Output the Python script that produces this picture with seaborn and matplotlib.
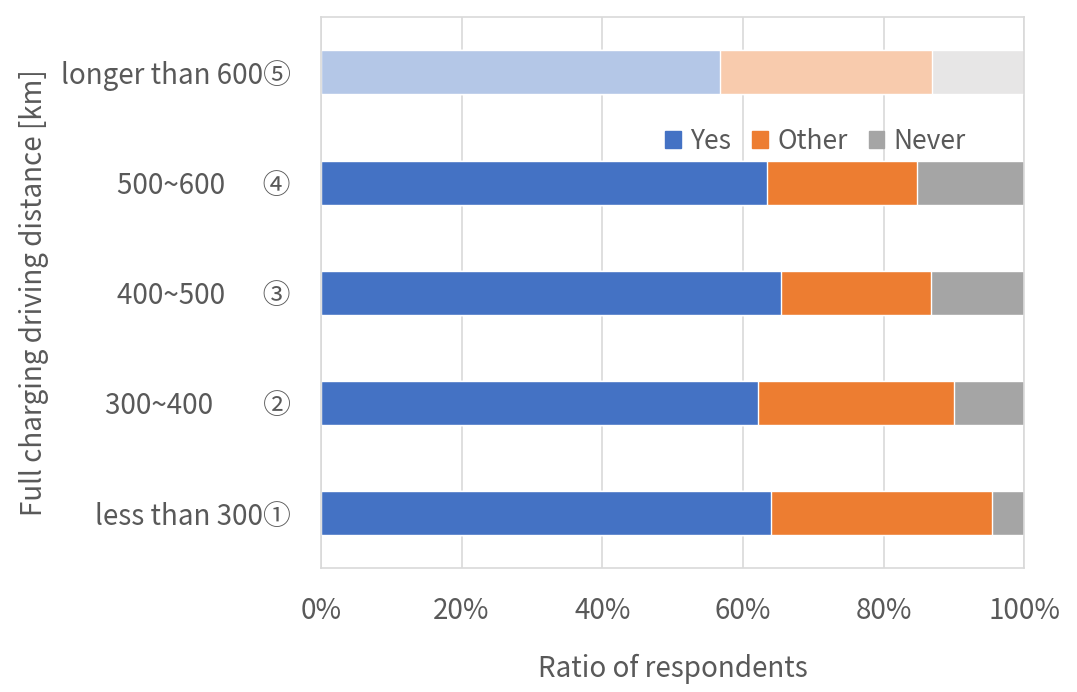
import pandas as pd
import matplotlib
matplotlib.use('Agg')
import matplotlib.pyplot as plt
import seaborn as sns
from matplotlib.patches import Patch
from matplotlib.ticker import PercentFormatter

# 資料 (由上到下)
categories = ['longer than 600⑤', '500~600      ④', '400~500      ③',
              '300~400        ②', 'less than 300①']
yes_pct = [56.8, 63.4, 65.4, 62.2, 64.0]
other_pct = [30.1, 21.4, 21.4, 27.8, 31.4]
never_pct = [13.1, 15.2, 13.2, 10.0, 4.6]
series_names = ['Yes', 'Other', 'Never']

# 顏色 (第一列為淡色)
main_colors = ['#4472C4', '#ED7D31', '#A5A5A5']
light_colors = ['#B4C7E7', '#F8CBAD', '#E7E6E6']
text_color = '#595959'

sns.set_theme(style='white')
plt.rcParams['font.family'] = ['Noto Sans CJK KR', 'DejaVu Sans']

df = pd.DataFrame({'cat': categories, 'Yes': yes_pct,
                   'Other': other_pct, 'Never': never_pct})
df['cum_other'] = df['Yes'] + df['Other']
df['cum_never'] = df['cum_other'] + df['Never']

fig = plt.figure(figsize=(10.77, 6.92), dpi=100)
ax = fig.add_axes([0.298, 0.179, 0.653, 0.796])

# 疊加: 先畫總長, 再蓋上較短的
for col, idx in [('cum_never', 2), ('cum_other', 1), ('Yes', 0)]:
    pal = {c: (light_colors[idx] if i == 0 else main_colors[idx])
           for i, c in enumerate(categories)}
    sns.barplot(data=df, x=col, y='cat', hue='cat', palette=pal,
                order=categories, hue_order=categories, orient='h',
                width=0.4, saturation=1, legend=False, ax=ax)

ax.set_xlim(0, 100)
ax.set_ylim(4.5, -0.5)
ax.set_xticks([0, 20, 40, 60, 80, 100])
ax.xaxis.set_major_formatter(PercentFormatter(decimals=0))
ax.grid(axis='x', color='#D9D9D9', linewidth=1.2)
ax.set_axisbelow(True)
for s in ax.spines.values():
    s.set_color('#D9D9D9')
    s.set_linewidth(1.2)

ax.tick_params(axis='y', length=0, pad=22, labelsize=20, labelcolor=text_color)
ax.tick_params(axis='x', length=0, pad=20, labelsize=20, labelcolor=text_color)
ax.set_xlabel('Ratio of respondents', fontsize=20, color=text_color, labelpad=20)
ax.set_ylabel('Full charging driving distance [km]', fontsize=20,
              color=text_color, labelpad=8)

handles = [Patch(color=c) for c in main_colors]
ax.legend(handles, series_names, loc='center', bbox_to_anchor=(0.703, 0.775),
          ncol=3, frameon=False, fontsize=19, labelcolor=text_color,
          handlelength=0.6, handleheight=0.6, handletextpad=0.35,
          columnspacing=0.8)

plt.savefig('out.png', dpi=100)
plt.close()
